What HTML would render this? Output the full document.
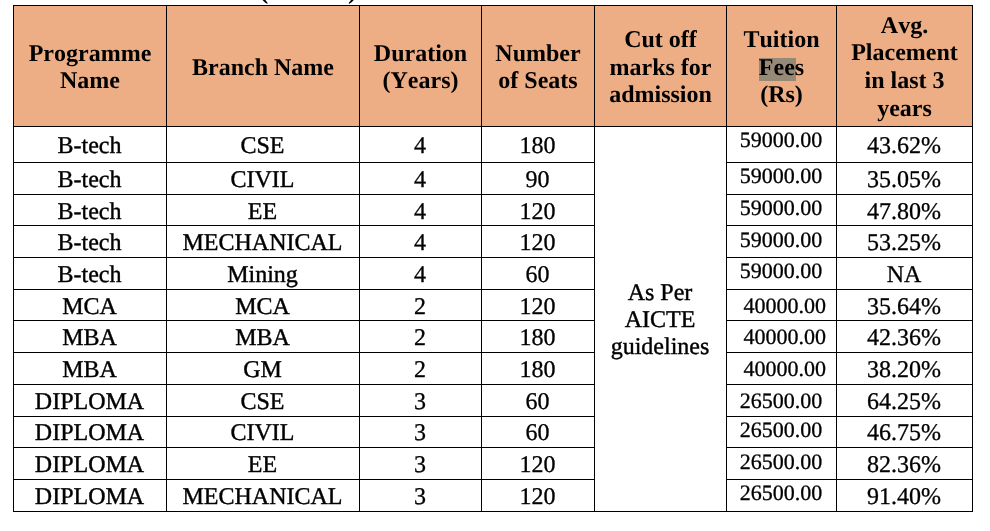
<!DOCTYPE html>
<html lang="en"><head><meta charset="utf-8"><title>Programme details</title>
<style>
html,body{margin:0;padding:0;background:#fff;}
body{width:990px;height:531px;position:relative;overflow:hidden;font-family:"Liberation Serif","Times New Roman",serif;color:#000;}
.t{position:absolute;left:0;top:0;width:990px;height:531px;}
.hd{position:absolute;background:#EDAE85;}
.v,.h{position:absolute;background:#000;}
.c{position:absolute;text-align:center;white-space:nowrap;font-size:24px;line-height:27.6px;height:27.6px;text-rendering:geometricPrecision;font-kerning:none;font-variant-ligatures:none;-webkit-text-stroke:0.4px #000;}
.p{position:absolute;font-size:28px;line-height:40px;height:40px;font-weight:bold;white-space:nowrap;text-rendering:geometricPrecision;}
.b{font-weight:bold;-webkit-text-stroke:0;}
.f{font-size:22px;-webkit-text-stroke:0.3px #000;}
.n{-webkit-text-stroke:0.3px #000;}
.hl{position:absolute;background:#968A76;}
</style></head><body>
<div class="t">
<div class="p" style="left:259px;top:-30px">(</div>
<div class="p" style="left:348px;top:-30px">)</div>
<div class="hd" style="left:13px;top:5px;width:960px;height:122px"></div>
<div class="hl" style="left:759px;top:58px;width:37px;height:23px"></div>
<div class="c b" style="left:14px;width:152px;top:41px">Programme</div>
<div class="c b" style="left:14px;width:152px;top:68px">Name</div>
<div class="c b" style="left:167px;width:192px;top:55px">Branch Name</div>
<div class="c b" style="left:360px;width:121px;top:41px">Duration</div>
<div class="c b" style="left:360px;width:121px;top:68px">(Years)</div>
<div class="c b" style="left:482px;width:112px;top:41px">Number</div>
<div class="c b" style="left:482px;width:112px;top:68px">of Seats</div>
<div class="c b" style="left:595px;width:131px;top:27px">Cut off</div>
<div class="c b" style="left:595px;width:131px;top:55px">marks for</div>
<div class="c b" style="left:595px;width:131px;top:82px">admission</div>
<div class="c b" style="left:727px;width:109px;top:27px">Tuition</div>
<div class="c b" style="left:727px;width:109px;top:55px">Fees</div>
<div class="c b" style="left:727px;width:109px;top:82px">(Rs)</div>
<div class="c b" style="left:837px;width:135px;top:13px">Avg.</div>
<div class="c b" style="left:837px;width:135px;top:40px">Placement</div>
<div class="c b" style="left:837px;width:135px;top:68px">in last 3</div>
<div class="c b" style="left:837px;width:135px;top:96px">years</div>
<div class="c" style="left:13.5px;width:152px;top:133px">B-tech</div>
<div class="c" style="left:166.5px;width:192px;top:133px">CSE</div>
<div class="c n" style="left:359.5px;width:121px;top:133px">4</div>
<div class="c n" style="left:481.5px;width:112px;top:133px">180</div>
<div class="c f" style="left:726.5px;width:109px;top:126px">59000.00</div>
<div class="c n" style="left:836.5px;width:135px;top:133px">43.62%</div>
<div class="c" style="left:13.5px;width:152px;top:167px">B-tech</div>
<div class="c" style="left:166.5px;width:192px;top:167px">CIVIL</div>
<div class="c n" style="left:359.5px;width:121px;top:167px">4</div>
<div class="c n" style="left:481.5px;width:112px;top:167px">90</div>
<div class="c f" style="left:726.5px;width:109px;top:162px">59000.00</div>
<div class="c n" style="left:836.5px;width:135px;top:167px">35.05%</div>
<div class="c" style="left:13.5px;width:152px;top:199px">B-tech</div>
<div class="c" style="left:166.5px;width:192px;top:199px">EE</div>
<div class="c n" style="left:359.5px;width:121px;top:199px">4</div>
<div class="c n" style="left:481.5px;width:112px;top:199px">120</div>
<div class="c f" style="left:726.5px;width:109px;top:194px">59000.00</div>
<div class="c n" style="left:836.5px;width:135px;top:199px">47.80%</div>
<div class="c" style="left:13.5px;width:152px;top:230px">B-tech</div>
<div class="c" style="left:166.5px;width:192px;top:230px">MECHANICAL</div>
<div class="c n" style="left:359.5px;width:121px;top:230px">4</div>
<div class="c n" style="left:481.5px;width:112px;top:230px">120</div>
<div class="c f" style="left:726.5px;width:109px;top:226px">59000.00</div>
<div class="c n" style="left:836.5px;width:135px;top:230px">53.25%</div>
<div class="c" style="left:13.5px;width:152px;top:262px">B-tech</div>
<div class="c" style="left:166.5px;width:192px;top:262px">Mining</div>
<div class="c n" style="left:359.5px;width:121px;top:262px">4</div>
<div class="c n" style="left:481.5px;width:112px;top:262px">60</div>
<div class="c f" style="left:726.5px;width:109px;top:257px">59000.00</div>
<div class="c n" style="left:836.5px;width:135px;top:262px">NA</div>
<div class="c" style="left:13.5px;width:152px;top:294px">MCA</div>
<div class="c" style="left:166.5px;width:192px;top:294px">MCA</div>
<div class="c n" style="left:359.5px;width:121px;top:294px">2</div>
<div class="c n" style="left:481.5px;width:112px;top:294px">120</div>
<div class="c f" style="left:727.4px;width:109px;top:292px">&nbsp;40000.00</div>
<div class="c n" style="left:836.5px;width:135px;top:294px">35.64%</div>
<div class="c" style="left:13.5px;width:152px;top:325px">MBA</div>
<div class="c" style="left:166.5px;width:192px;top:325px">MBA</div>
<div class="c n" style="left:359.5px;width:121px;top:325px">2</div>
<div class="c n" style="left:481.5px;width:112px;top:325px">180</div>
<div class="c f" style="left:727.4px;width:109px;top:323px">&nbsp;40000.00</div>
<div class="c n" style="left:836.5px;width:135px;top:325px">42.36%</div>
<div class="c" style="left:13.5px;width:152px;top:357px">MBA</div>
<div class="c" style="left:166.5px;width:192px;top:357px">GM</div>
<div class="c n" style="left:359.5px;width:121px;top:357px">2</div>
<div class="c n" style="left:481.5px;width:112px;top:357px">180</div>
<div class="c f" style="left:727.4px;width:109px;top:355px">&nbsp;40000.00</div>
<div class="c n" style="left:836.5px;width:135px;top:357px">38.20%</div>
<div class="c" style="left:13.5px;width:152px;top:389px">DIPLOMA</div>
<div class="c" style="left:166.5px;width:192px;top:389px">CSE</div>
<div class="c n" style="left:359.5px;width:121px;top:389px">3</div>
<div class="c n" style="left:481.5px;width:112px;top:389px">60</div>
<div class="c f" style="left:726.5px;width:109px;top:387px">26500.00</div>
<div class="c n" style="left:836.5px;width:135px;top:389px">64.25%</div>
<div class="c" style="left:13.5px;width:152px;top:420px">DIPLOMA</div>
<div class="c" style="left:166.5px;width:192px;top:420px">CIVIL</div>
<div class="c n" style="left:359.5px;width:121px;top:420px">3</div>
<div class="c n" style="left:481.5px;width:112px;top:420px">60</div>
<div class="c f" style="left:726.5px;width:109px;top:416px">26500.00</div>
<div class="c n" style="left:836.5px;width:135px;top:420px">46.75%</div>
<div class="c" style="left:13.5px;width:152px;top:452px">DIPLOMA</div>
<div class="c" style="left:166.5px;width:192px;top:452px">EE</div>
<div class="c n" style="left:359.5px;width:121px;top:452px">3</div>
<div class="c n" style="left:481.5px;width:112px;top:452px">120</div>
<div class="c f" style="left:726.5px;width:109px;top:448px">26500.00</div>
<div class="c n" style="left:836.5px;width:135px;top:452px">82.36%</div>
<div class="c" style="left:13.5px;width:152px;top:484px">DIPLOMA</div>
<div class="c" style="left:166.5px;width:192px;top:484px">MECHANICAL</div>
<div class="c n" style="left:359.5px;width:121px;top:484px">3</div>
<div class="c n" style="left:481.5px;width:112px;top:484px">120</div>
<div class="c f" style="left:726.5px;width:109px;top:479px">26500.00</div>
<div class="c n" style="left:836.5px;width:135px;top:484px">91.40%</div>
<div class="c" style="left:594.5px;width:131px;top:280px">As Per</div>
<div class="c" style="left:594.5px;width:131px;top:307px">AICTE</div>
<div class="c" style="left:594.5px;width:131px;top:334px">guidelines</div>
<div class="v" style="left:13px;top:5px;width:1px;height:507px"></div>
<div class="v" style="left:166px;top:5px;width:1px;height:507px"></div>
<div class="v" style="left:359px;top:5px;width:1px;height:507px"></div>
<div class="v" style="left:481px;top:5px;width:1px;height:507px"></div>
<div class="v" style="left:594px;top:5px;width:1px;height:507px"></div>
<div class="v" style="left:726px;top:5px;width:1px;height:507px"></div>
<div class="v" style="left:836px;top:5px;width:1px;height:507px"></div>
<div class="v" style="left:972px;top:5px;width:1px;height:507px"></div>
<div class="h" style="left:13px;top:5px;width:960px;height:1px"></div>
<div class="h" style="left:13px;top:126px;width:960px;height:1px"></div>
<div class="h" style="left:13px;top:162px;width:582px;height:1px"></div>
<div class="h" style="left:726px;top:162px;width:247px;height:1px"></div>
<div class="h" style="left:13px;top:194px;width:582px;height:1px"></div>
<div class="h" style="left:726px;top:194px;width:247px;height:1px"></div>
<div class="h" style="left:13px;top:225px;width:582px;height:1px"></div>
<div class="h" style="left:726px;top:225px;width:247px;height:1px"></div>
<div class="h" style="left:13px;top:257px;width:582px;height:1px"></div>
<div class="h" style="left:726px;top:257px;width:247px;height:1px"></div>
<div class="h" style="left:13px;top:289px;width:582px;height:1px"></div>
<div class="h" style="left:726px;top:289px;width:247px;height:1px"></div>
<div class="h" style="left:13px;top:320px;width:582px;height:1px"></div>
<div class="h" style="left:726px;top:320px;width:247px;height:1px"></div>
<div class="h" style="left:13px;top:352px;width:582px;height:1px"></div>
<div class="h" style="left:726px;top:352px;width:247px;height:1px"></div>
<div class="h" style="left:13px;top:384px;width:582px;height:1px"></div>
<div class="h" style="left:726px;top:384px;width:247px;height:1px"></div>
<div class="h" style="left:13px;top:416px;width:582px;height:1px"></div>
<div class="h" style="left:726px;top:416px;width:247px;height:1px"></div>
<div class="h" style="left:13px;top:447px;width:582px;height:1px"></div>
<div class="h" style="left:726px;top:447px;width:247px;height:1px"></div>
<div class="h" style="left:13px;top:479px;width:582px;height:1px"></div>
<div class="h" style="left:726px;top:479px;width:247px;height:1px"></div>
<div class="h" style="left:13px;top:511px;width:960px;height:1px"></div>
</div>
</body></html>
